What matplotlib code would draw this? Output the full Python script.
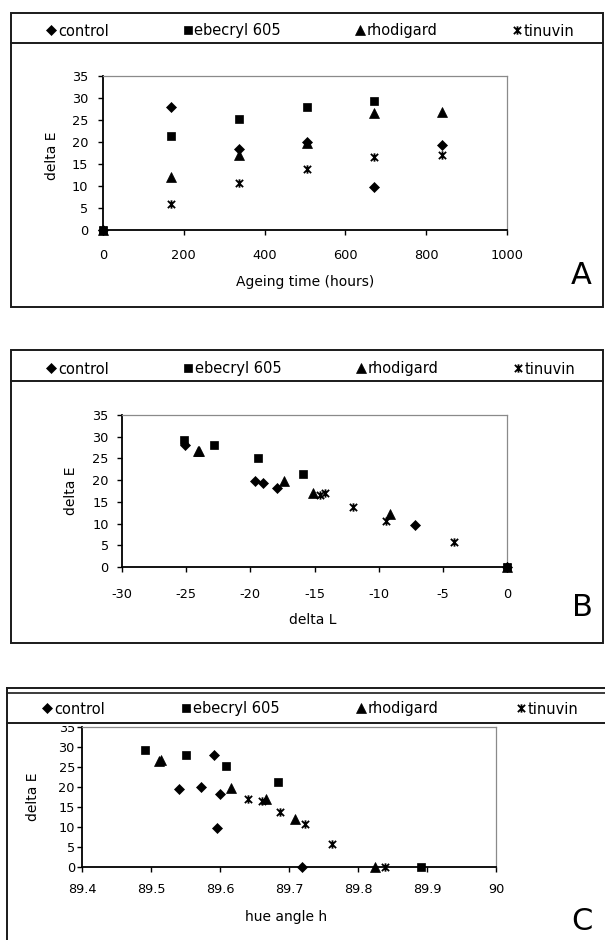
import matplotlib
matplotlib.use('Agg')
import matplotlib.pyplot as plt
from matplotlib.path import Path
from matplotlib.patches import Rectangle

plt.rcParams['font.family'] = ['DejaVu Sans']
plt.rcParams['axes.unicode_minus'] = False

# ---------------- data ----------------
series_names = ['control', 'ebecryl 605', 'rhodigard', 'tinuvin']

hours_5 = [0, 168, 336, 504, 672, 840]
hours_4 = [0, 168, 336, 504, 672]

dE_control = [0, 28.0, 18.3, 19.9, 9.7, 19.4]
dE_ebecryl = [0, 21.3, 25.2, 28.0, 29.3]
dE_rhodigard = [0, 12.1, 17.1, 19.8, 26.6, 26.8]
dE_tinuvin = [0, 5.8, 10.7, 13.8, 16.5, 17.0]

dL_control = [0, -25.1, -17.9, -19.6, -7.2, -19.0]
dL_ebecryl = [0, -15.9, -19.4, -22.8, -25.2]
dL_rhodigard = [0, -9.1, -15.1, -17.4, -24.0, -24.1]
dL_tinuvin = [0, -4.1, -9.4, -12.0, -14.6, -14.2]

hue_control = [89.719, 89.592, 89.600, 89.572, 89.595, 89.540]
hue_ebecryl = [89.892, 89.684, 89.609, 89.550, 89.492]
hue_rhodigard = [89.824, 89.709, 89.667, 89.616, 89.512, 89.515]
hue_tinuvin = [89.839, 89.762, 89.723, 89.687, 89.661, 89.640]

yticks = [0, 5, 10, 15, 20, 25, 30, 35]
xticks_A = [0, 200, 400, 600, 800, 1000]
xticks_B = [-30, -25, -20, -15, -10, -5, 0]
xticks_C = [89.4, 89.5, 89.6, 89.7, 89.8, 89.9, 90.0]
xticklabels_C = ['89.4', '89.5', '89.6', '89.7', '89.8', '89.9', '90']

# ---------------- layout helpers ----------------
W, H = 605, 940
fig = plt.figure(figsize=(W / 100, H / 100), dpi=100)


def rect(l, r, t, b):
    return [l / W, 1 - b / H, (r - l) / W, (b - t) / H]


star = Path([(-1, -1), (1, 1), (-1, 1), (1, -1), (0, -1.15), (0, 1.15)],
            [Path.MOVETO, Path.LINETO, Path.MOVETO, Path.LINETO,
             Path.MOVETO, Path.LINETO])

styles = [dict(marker='D', ms=5.4, mfc='black', mec='black', mew=0.5),
          dict(marker='s', ms=6.2, mfc='black', mec='black', mew=0.5),
          dict(marker='^', ms=7.2, mfc='black', mec='black', mew=0.5),
          dict(marker=star, ms=6.0, mfc='none', mec='black', mew=1.3)]


def plot_panel(ax, xs, ys, xlim, xticks, xlabels, xpad, ypad):
    handles = []
    for x, y, st in zip(xs, ys, styles):
        h, = ax.plot(x, y, linestyle='none', clip_on=False, zorder=3, **st)
        handles.append(h)
    ax.set_xlim(*xlim)
    ax.set_ylim(0, 35)
    ax.set_xticks(xticks)
    if xlabels is not None:
        ax.set_xticklabels(xlabels)
    ax.set_yticks(yticks)
    for s in ('top', 'right'):
        ax.spines[s].set_color('#8a8a8a')
        ax.spines[s].set_linewidth(0.9)
    for s in ('left', 'bottom'):
        ax.spines[s].set_color('black')
        ax.spines[s].set_linewidth(1.3)
    ax.tick_params(direction='out', length=3.6, width=1.0, colors='black',
                   labelsize=9.3)
    ax.tick_params(axis='x', pad=xpad)
    ax.tick_params(axis='y', pad=ypad)
    return handles


axA = fig.add_axes(rect(103, 507, 76, 230))
hA = plot_panel(axA, [hours_5, hours_4, hours_5, hours_5],
                [dE_control, dE_ebecryl, dE_rhodigard, dE_tinuvin],
                (0, 1000), xticks_A, None, 10, 7)

axB = fig.add_axes(rect(122, 507, 415, 567))
hB = plot_panel(axB, [dL_control, dL_ebecryl, dL_rhodigard, dL_tinuvin],
                [dE_control, dE_ebecryl, dE_rhodigard, dE_tinuvin],
                (-30, 0), xticks_B, None, 11.5, 6)

axC = fig.add_axes(rect(82, 496, 727, 867))
hC = plot_panel(axC, [hue_control, hue_ebecryl, hue_rhodigard, hue_tinuvin],
                [dE_control, dE_ebecryl, dE_rhodigard, dE_tinuvin],
                (89.4, 90.0), xticks_C, xticklabels_C, 8, 1.5)

# ---------------- overlay: frames, labels ----------------
ov = fig.add_axes([0, 0, 1, 1], zorder=3)
ov.set_xlim(0, W)
ov.set_ylim(H, 0)
ov.axis('off')
ov.patch.set_alpha(0)

lc = '#1a1a1a'
# panel A
ov.add_patch(Rectangle((11, 13), 592, 294, fill=False, lw=1.4, ec=lc))
ov.plot([11, 603], [43, 43], color=lc, lw=1.4)
# panel B
ov.add_patch(Rectangle((11, 350), 592, 293, fill=False, lw=1.4, ec=lc))
ov.plot([11, 603], [381, 381], color=lc, lw=1.4)
# panel C
ov.add_patch(Rectangle((7, 692), 70, 34, fc='white', ec='none'))
ov.add_patch(Rectangle((7, 692), 598, 31, fc='white', ec='none'))
ov.plot([7, 605], [688, 688], color=lc, lw=1.4)
ov.plot([7, 605], [692.5, 692.5], color=lc, lw=1.2)
ov.plot([7, 605], [723, 723], color=lc, lw=1.4)
ov.plot([7, 7], [688, 940], color=lc, lw=1.4)

# axis labels
ov.text(305, 282, 'Ageing time (hours)', ha='center', va='center', fontsize=10)
ov.text(52, 156, 'delta E', ha='center', va='center', rotation=90, fontsize=10)
ov.text(313, 620, 'delta L', ha='center', va='center', fontsize=10)
ov.text(71, 491, 'delta E', ha='center', va='center', rotation=90, fontsize=10)
ov.text(286, 917, 'hue angle h', ha='center', va='center', fontsize=10)
ov.text(33, 797, 'delta E', ha='center', va='center', rotation=90, fontsize=10)

# panel letters
ov.text(581, 276, 'A', ha='center', va='center', fontsize=22)
ov.text(582, 608, 'B', ha='center', va='center', fontsize=22)
ov.text(582, 921, 'C', ha='center', va='center', fontsize=22)

# legends
for handles, yc, x0, x1 in [(hA, 31, 47, 574), (hB, 369, 47, 575),
                             (hC, 709, 43, 578)]:
    fig.legend(handles, series_names, loc='center',
               bbox_to_anchor=(x0 / W, 1 - (yc + 10) / H, (x1 - x0) / W, 20 / H),
               bbox_transform=fig.transFigure, mode='expand', ncol=4,
               frameon=False, fontsize=10.5, handlelength=0.6,
               handletextpad=0.15, borderpad=0, borderaxespad=0,
               numpoints=1)

fig.savefig('out.png', dpi=100)
